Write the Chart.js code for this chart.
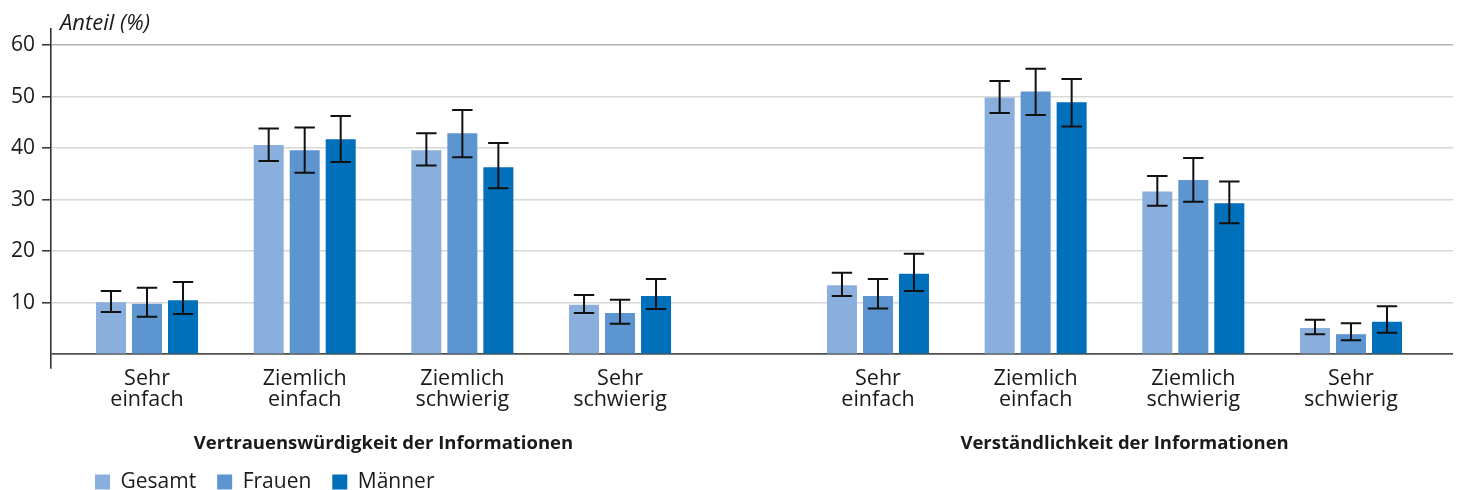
<!DOCTYPE html>
<html lang="de">
<head>
<meta charset="utf-8">
<title>Anteil (%)</title>
<script src="https://cdn.jsdelivr.net/npm/chart.js@4/dist/chart.umd.min.js"></script>
<style>
  html, body { margin: 0; padding: 0; background: #ffffff; }
  #wrap { width: 1457px; height: 490px; }
</style>
</head>
<body>
<div id="wrap"><canvas id="chart" width="1457" height="490"></canvas></div>
<script>
// Answer categories (two groups of four)
const categories = [
  ['Sehr', 'einfach'], ['Ziemlich', 'einfach'], ['Ziemlich', 'schwierig'], ['Sehr', 'schwierig'],
  ['Sehr', 'einfach'], ['Ziemlich', 'einfach'], ['Ziemlich', 'schwierig'], ['Sehr', 'schwierig']
];
const groupTitles = ['Vertrauenswürdigkeit der Informationen', 'Verständlichkeit der Informationen'];
const seriesNames = ['Gesamt', 'Frauen', 'Männer'];

// Shares in percent with 95 % confidence limits
const gesamt     = [10.1, 40.6, 39.6,  9.6, 13.4, 49.8, 31.6, 5.1];
const gesamtLow  = [ 8.2, 37.5, 36.6,  8.0, 11.3, 46.8, 28.8, 3.9];
const gesamtHigh = [12.3, 43.8, 42.9, 11.5, 15.8, 53.0, 34.6, 6.7];

const frauen     = [ 9.8, 39.6, 42.9,  8.0, 11.3, 51.0, 33.8, 3.9];
const frauenLow  = [ 7.3, 35.2, 38.2,  5.9,  8.9, 46.4, 29.6, 2.7];
const frauenHigh = [12.9, 44.0, 47.4, 10.6, 14.6, 55.4, 38.1, 6.0];

const maenner     = [10.5, 41.7, 36.3, 11.3, 15.6, 48.9, 29.3, 6.3];
const maennerLow  = [ 7.8, 37.3, 32.2,  8.8, 12.3, 44.2, 25.4, 4.2];
const maennerHigh = [14.0, 46.2, 41.0, 14.6, 19.5, 53.4, 33.5, 9.3];

const yTicks = [0, 10, 20, 30, 40, 50, 60];

// Category slots on a numeric axis: four per group, extra space between the groups
const groupGap = 0.636;
const slot = categories.map((_, i) => i + (i >= 4 ? groupGap : 0));
const toPoints = vals => vals.map((v, i) => ({ x: slot[i], y: v }));

const colors = ['#8bafdc', '#5c95cf', '#0070ba'];
const textColor = '#1a1a1a';

Chart.defaults.font.family = '"Open Sans", "Noto Sans", sans-serif';
Chart.defaults.color = textColor;

// Confidence-interval whiskers drawn on top of each bar
const errorBars = {
  id: 'errorBars',
  afterDatasetsDraw(chart, args, opts) {
    const ctx = chart.ctx;
    const y = chart.scales.y;
    ctx.save();
    ctx.strokeStyle = opts.color;
    ctx.lineWidth = opts.lineWidth;
    chart.data.datasets.forEach((ds, i) => {
      const meta = chart.getDatasetMeta(i);
      if (meta.hidden) return;
      meta.data.forEach((bar, j) => {
        const top = y.getPixelForValue(ds.errHigh[j]);
        const bottom = y.getPixelForValue(ds.errLow[j]);
        const half = bar.width * opts.capRatio / 2;
        ctx.beginPath();
        ctx.moveTo(bar.x, top); ctx.lineTo(bar.x, bottom);
        ctx.moveTo(bar.x - half, top); ctx.lineTo(bar.x + half, top);
        ctx.moveTo(bar.x - half, bottom); ctx.lineTo(bar.x + half, bottom);
        ctx.stroke();
      });
    });
    ctx.restore();
  }
};

// Nudges the start corner of the title and legend blocks after the layout pass
const boxOffsets = {
  id: 'boxOffsets',
  afterLayout(chart, args, opts) {
    const move = (box, d) => {
      if (!box || !d) return;
      box.left += d.dx;
      box.top += d.dy;
    };
    move(chart.titleBlock, opts.title);
    move(chart.legend, opts.legend);
  }
};

const series = [
  [gesamt, gesamtLow, gesamtHigh],
  [frauen, frauenLow, frauenHigh],
  [maenner, maennerLow, maennerHigh]
];

new Chart(document.getElementById('chart'), {
  type: 'bar',
  data: {
    datasets: series.map(([vals, lo, hi], k) => ({
      label: seriesNames[k],
      data: toPoints(vals),
      errLow: lo,
      errHigh: hi,
      backgroundColor: colors[k],
      borderWidth: 0
    }))
  },
  options: {
    responsive: false,
    animation: false,
    categoryPercentage: 0.685,
    barPercentage: 0.8333,
    layout: { padding: { top: 0, right: 4, bottom: 0, left: 0 } },
    scales: {
      x: {
        type: 'linear',
        position: 'bottom',
        offset: false,
        bounds: 'data',
        min: -0.609,
        max: slot[slot.length - 1] + 0.647,
        afterBuildTicks: s => { s.ticks = slot.map(v => ({ value: v })); },
        afterFit: s => { s.height = 46; },
        grid: { display: false, drawTicks: false },
        border: { display: false },
        ticks: {
          autoSkip: false,
          maxRotation: 0,
          padding: 0,
          color: textColor,
          font: { size: 21.5, lineHeight: 1.0 },
          callback: (v, i) => categories[i]
        }
      },
      x2: {
        type: 'linear',
        position: 'bottom',
        weight: 1,
        offset: false,
        bounds: 'data',
        min: -0.609,
        max: slot[slot.length - 1] + 0.647,
        afterBuildTicks: s => { s.ticks = [{ value: 1.5 }, { value: 6.2 }]; },
        afterFit: s => { s.height = 42; },
        grid: { display: false, drawTicks: false },
        border: { display: false },
        ticks: {
          autoSkip: false,
          maxRotation: 0,
          padding: 18.5,
          color: textColor,
          font: { size: 18.5, weight: 'bold', lineHeight: 1.2 },
          callback: (v, i) => groupTitles[i]
        }
      },
      y: {
        type: 'linear',
        min: -2.66,
        max: 63.1,
        afterBuildTicks: s => { s.ticks = yTicks.map(v => ({ value: v })); },
        afterFit: s => { s.width = 51; },
        grid: {
          color: c => c.tick.value === 0 ? '#4f4f4f' : (c.tick.value === 60 ? '#b3b3b3' : '#d7d7d7'),
          lineWidth: c => c.tick.value === 0 ? 1.8 : 1.6,
          drawTicks: true,
          tickLength: 9,
          tickWidth: 1.5,
          tickColor: c => c.tick.value === 0 ? 'rgba(0,0,0,0)' : '#333333'
        },
        border: { display: true, color: '#333333', width: 1.6 },
        ticks: {
          padding: 7,
          color: textColor,
          font: { size: 21 },
          callback: v => v === 0 ? '' : String(v)
        }
      }
    },
    plugins: {
      title: {
        display: true,
        text: 'Anteil (%)',
        align: 'start',
        color: textColor,
        font: { size: 22, style: 'italic', weight: 'normal', lineHeight: 1.2 },
        padding: { top: 10.8, bottom: -8.2 }
      },
      legend: {
        display: true,
        position: 'bottom',
        align: 'start',
        maxHeight: 34,
        labels: {
          boxWidth: 15,
          boxHeight: 15,
          padding: 21,
          color: textColor,
          font: { size: 21 }
        }
      },
      tooltip: { enabled: false },
      errorBars: { color: '#111111', lineWidth: 2, capRatio: 0.68 },
      boxOffsets: { title: { dx: 60, dy: 0 }, legend: { dx: 74, dy: -5.5 } }
    }
  },
  plugins: [errorBars, boxOffsets]
});
</script>
</body>
</html>
